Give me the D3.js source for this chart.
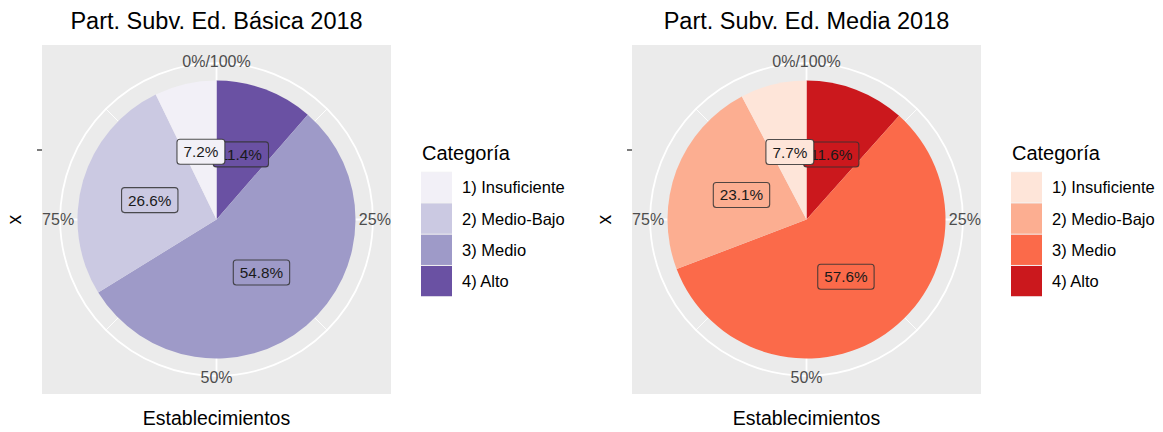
<!DOCTYPE html>
<meta charset="utf-8">
<script src="https://d3js.org/d3.v7.min.js"></script>
<style>
  body { margin: 0; background: #fff; }
  text { font-family: "Liberation Sans", Arial, Helvetica, sans-serif; }
</style>
<div id="chart"></div>
<script>
// categories and values (percent of establecimientos)
var categories = ["1) Insuficiente", "2) Medio-Bajo", "3) Medio", "4) Alto"];
var basicaValues = [7.2, 26.6, 54.8, 11.4];
var mediaValues = [7.7, 23.1, 57.6, 11.6];
var purples = ["#f2f0f7", "#cbc9e2", "#9e9ac8", "#6a51a3"];
var reds = ["#fee5d9", "#fcae91", "#fb6a4a", "#cb181d"];
var thetaBreaks = [0, 25, 50, 75];
var thetaLabels = ["0%/100%", "25%", "50%", "75%"];
var thetaMinor = [12.5, 37.5, 62.5, 87.5];

var W = 1163, H = 432;
var svg = d3.select("#chart").append("svg")
  .attr("width", W).attr("height", H);

function drawPie(offsetX, title, values, colors) {
  var g = svg.append("g").attr("transform", "translate(" + offsetX + ",0)");

  // panel
  var panel = {x: 42, y: 45, w: 349, h: 349};
  var cx = panel.x + panel.w / 2, cy = panel.y + panel.h / 2;
  var pieR = 139;

  // scales: theta is the stacked percent, r is the discrete x position
  var theta = d3.scaleLinear().domain([0, 100]).range([0, 2 * Math.PI]);
  var rad = d3.scaleLinear().domain([0.5, 1.5]).range([0, pieR]);
  var outerR = pieR * 0.45 / 0.4;

  function pt(a, r) { return [cx + r * Math.sin(a), cy - r * Math.cos(a)]; }

  g.append("rect")
    .attr("x", panel.x).attr("y", panel.y)
    .attr("width", panel.w).attr("height", panel.h)
    .attr("fill", "#EBEBEB");

  // grid
  g.selectAll(".minor").data(thetaMinor).enter().append("line")
    .attr("x1", cx).attr("y1", cy)
    .attr("x2", function(d){ return pt(theta(d), outerR)[0]; })
    .attr("y2", function(d){ return pt(theta(d), outerR)[1]; })
    .attr("stroke", "white").attr("stroke-width", 0.9);
  g.selectAll(".major").data(thetaBreaks).enter().append("line")
    .attr("x1", cx).attr("y1", cy)
    .attr("x2", function(d){ return pt(theta(d), outerR)[0]; })
    .attr("y2", function(d){ return pt(theta(d), outerR)[1]; })
    .attr("stroke", "white").attr("stroke-width", 1.8);
  g.append("circle")
    .attr("cx", cx).attr("cy", cy).attr("r", outerR)
    .attr("fill", "none").attr("stroke", "white").attr("stroke-width", 1.8);

  // stacked slices, clockwise from the top: Alto, Medio, Medio-Bajo, Insuficiente
  var rows = categories.map(function(c, i){ return {cat: c, value: values[i], color: colors[i]}; });
  var stackRows = rows.slice().reverse();
  var cum = 0;
  stackRows.forEach(function(d){ d.start = cum; cum += d.value; d.end = cum; d.mid = (d.start + d.end) / 2; });

  var arc = d3.arc().innerRadius(rad(0.5)).outerRadius(rad(1.5));
  g.selectAll(".slice").data(stackRows).enter().append("path")
    .attr("transform", "translate(" + cx + "," + cy + ")")
    .attr("d", function(d){ return arc({startAngle: theta(d.start), endAngle: theta(d.end)}); })
    .attr("fill", function(d){ return d.color; });

  // labels at x = 1, drawn so that Insuficiente ends on top
  var fmt = d3.format(".1f");
  var fs = 15.3, padX = 6.5, boxH = 25;
  stackRows.forEach(function(d){
    var p = pt(theta(d.mid), rad(1));
    var lg = g.append("g");
    var t = lg.append("text")
      .attr("x", p[0]).attr("y", p[1])
      .attr("text-anchor", "middle")
      .attr("dominant-baseline", "central")
      .attr("font-size", fs + "px")
      .attr("fill", "#1a1a1a")
      .text(fmt(d.value) + "%");
    var tw = t.node().getComputedTextLength();
    lg.insert("rect", "text")
      .attr("x", p[0] - tw / 2 - padX).attr("y", p[1] - boxH / 2)
      .attr("width", tw + 2 * padX).attr("height", boxH)
      .attr("rx", 3).attr("ry", 3)
      .attr("fill", d.color)
      .attr("stroke", "#333").attr("stroke-opacity", 0.85).attr("stroke-width", 1.1);
  });

  // theta axis labels
  g.selectAll(".ttext").data(thetaBreaks).enter().append("text")
    .attr("x", function(d){ return pt(theta(d), outerR + 2)[0]; })
    .attr("y", function(d){ return pt(theta(d), outerR + 2)[1]; })
    .attr("text-anchor", "middle")
    .attr("dominant-baseline", "central")
    .attr("font-size", "16px")
    .attr("fill", "#4D4D4D")
    .text(function(d, i){ return thetaLabels[i]; });

  // r axis: a single tick for x = "" with empty label
  var ty = cy - rad(1);
  g.append("line")
    .attr("x1", panel.x - 5).attr("x2", panel.x)
    .attr("y1", ty).attr("y2", ty)
    .attr("stroke", "#333").attr("stroke-width", 1.3);
  g.append("text")
    .attr("transform", "translate(21," + cy + ") rotate(-90)")
    .attr("text-anchor", "middle")
    .attr("font-size", "19.5px")
    .attr("fill", "black")
    .text("x");

  // titles
  g.append("text")
    .attr("x", cx).attr("y", 28.5)
    .attr("text-anchor", "middle")
    .attr("font-size", "23.5px")
    .attr("fill", "black")
    .text(title);
  g.append("text")
    .attr("x", cx).attr("y", 425)
    .attr("text-anchor", "middle")
    .attr("font-size", "19.5px")
    .attr("fill", "black")
    .text("Establecimientos");

  // legend
  var lx = 421, ly = 171.7, kh = 31.25, kw = 31;
  g.append("text")
    .attr("x", lx + 1).attr("y", 160)
    .attr("font-size", "20px")
    .attr("fill", "black")
    .text("Categoría");
  rows.forEach(function(d, i){
    g.append("rect")
      .attr("x", lx).attr("y", ly + i * kh)
      .attr("width", kw).attr("height", kh)
      .attr("fill", "#F2F2F2");
    g.append("rect")
      .attr("x", lx).attr("y", ly + i * kh + 0.5)
      .attr("width", kw).attr("height", kh - 1)
      .attr("fill", d.color);
    g.append("text")
      .attr("x", lx + 41).attr("y", ly + i * kh + kh / 2)
      .attr("dominant-baseline", "central")
      .attr("font-size", "16.5px")
      .attr("fill", "black")
      .text(d.cat);
  });
}

drawPie(0, "Part. Subv. Ed. Básica 2018", basicaValues, purples);
drawPie(590, "Part. Subv. Ed. Media 2018", mediaValues, reds);
</script>
